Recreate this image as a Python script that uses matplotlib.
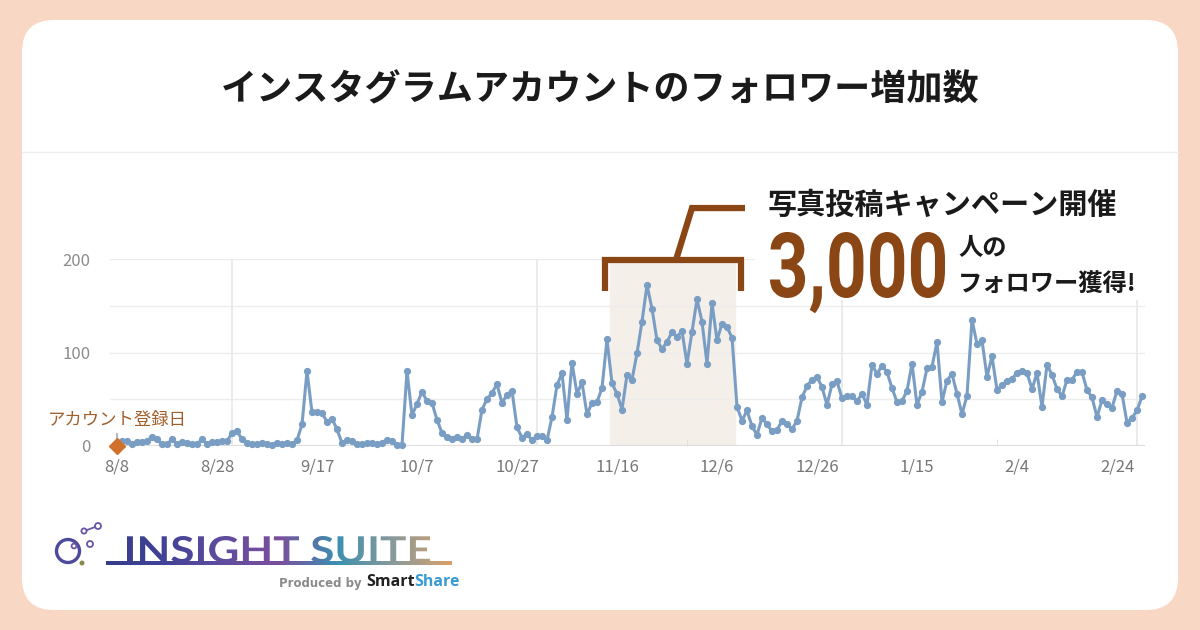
import matplotlib.pyplot as plt
import numpy as np
import matplotlib.transforms as mtransforms
from matplotlib.patches import FancyBboxPatch, Rectangle, Circle, PathPatch
from matplotlib.textpath import TextPath
from matplotlib.font_manager import FontProperties
from matplotlib.colors import LinearSegmentedColormap

plt.rcParams['font.family'] = ['Noto Sans CJK JP', 'DejaVu Sans']

# daily new followers, 8/8 -> 3/1
followers = [0, 5, 5, 2, 4, 4, 5, 10, 7, 2,
             2, 7, 2, 4, 3, 2, 2, 7, 2, 4,
             4, 5, 5, 14, 16, 7, 3, 2, 2, 3,
             2, 1, 3, 2, 3, 2, 6, 23, 80, 36,
             36, 35, 26, 29, 18, 3, 6, 5, 2, 2,
             3, 3, 2, 3, 6, 5, 1, 1, 80, 33,
             45, 58, 48, 46, 28, 14, 10, 8, 10, 7,
             12, 8, 7, 39, 50, 57, 66, 46, 55, 59,
             20, 9, 13, 6, 11, 11, 6, 31, 65, 78,
             28, 89, 56, 68, 34, 46, 47, 62, 114, 67,
             56, 39, 76, 71, 99, 133, 172, 147, 113, 104,
             111, 122, 117, 123, 88, 122, 157, 133, 88, 153,
             113, 131, 127, 116, 42, 27, 38, 21, 12, 30,
             23, 16, 17, 27, 23, 18, 27, 52, 64, 71,
             74, 63, 44, 66, 69, 51, 53, 53, 48, 56,
             44, 87, 77, 86, 79, 62, 47, 48, 59, 88,
             44, 58, 83, 85, 111, 47, 70, 77, 56, 34,
             54, 135, 109, 113, 74, 96, 60, 65, 70, 72,
             78, 80, 78, 61, 78, 42, 87, 76, 61, 53,
             71, 71, 79, 79, 60, 52, 31, 49, 45, 41,
             59, 56, 25, 30, 38, 53]

tick_days = [0, 20, 40, 60, 80, 100, 120, 140, 160, 180, 200]
tick_labels = ['8/8', '8/28', '9/17', '10/7', '10/27', '11/16', '12/6',
               '12/26', '1/15', '2/4', '2/24']
y_ticks = [0, 100, 200]
grid_days = [23, 84, 145, 204]
month_tick_days = [53, 114, 176]
campaign = (98.5, 123.5)

title = 'インスタグラムアカウントのフォロワー増加数'
brown = '#8a4614'
line_col = '#7a9ec3'

fig = plt.figure(figsize=(12, 6.3), dpi=100)
fig.patch.set_facecolor('#f8d8c4')

# background card
bg = fig.add_axes([0, 0, 1, 1])
bg.set_xlim(0, 1200)
bg.set_ylim(630, 0)
bg.axis('off')
bg.add_patch(FancyBboxPatch((22, 20), 1156, 590, boxstyle='round,pad=0,rounding_size=32',
                            fc='white', ec='none'))
bg.plot([22, 1178], [152, 152], color='#efefef', lw=1)
bg.text(600, 90, title, ha='center', va='center', fontsize=26, fontweight='bold', color='#1a1a1a')

# chart
ax = fig.add_axes([110/1200, (630-446)/630, 1035/1200, (446-259)/630])
ax.patch.set_alpha(0)
ax.set_xlim(-1.4, 205.6)
ax.set_ylim(0, 200)
days = np.arange(len(followers))

ax.axvspan(campaign[0], campaign[1], color='#f5efea', zorder=0)
for v in [50, 100, 150, 200]:
    ax.axhline(v, color='#ededed', lw=1, zorder=0.5)
for d in grid_days:
    ax.axvline(d, color='#e8e8e8', lw=1.2, zorder=0.5)
ax.axhline(0, color='#dddddd', lw=1.5, zorder=1)

ax.plot(days, followers, color=line_col, lw=2.2, marker='o', ms=4.2, clip_on=False, zorder=3)
ax.plot(days[0], followers[0], marker='D', color='#d0702a', ms=8, clip_on=False, zorder=4)

for s in ax.spines.values():
    s.set_visible(False)
ax.set_xticks(tick_days, tick_labels)
ax.set_yticks(y_ticks)
ax.set_xticks(month_tick_days, minor=True)
ax.tick_params(which='major', length=0, labelsize=12, labelcolor='#777777')
ax.tick_params(axis='x', which='major', pad=9)
ax.tick_params(axis='y', which='major', pad=14, labelcolor='#8c8c8c')
ax.tick_params(axis='x', which='minor', direction='in', length=5, color='#dddddd')

ax.annotate('アカウント登録日', xy=(days[0], followers[0]), xytext=(0, 12),
            textcoords='offset points', ha='center', va='bottom', fontsize=12.5,
            color='#a0602c', annotation_clip=False,
            arrowprops=dict(arrowstyle='-', color='#999999', lw=1, shrinkA=1, shrinkB=4))

# bracket over campaign period
bl, br = campaign[0] - 0.9, campaign[1] + 1.3
ax.plot([bl, bl, br, br], [166, 199, 199, 166], color=brown, lw=4.5,
        solid_joinstyle='miter', solid_capstyle='butt', clip_on=False, zorder=5)
ax.plot([111.8, 115, 125.6], [199, 254.5, 254.5], color=brown, lw=4.5,
        solid_joinstyle='miter', solid_capstyle='butt', clip_on=False, zorder=5)

# overlay for annotation text and logo
ov = fig.add_axes([0, 0, 1, 1], zorder=5)
ov.patch.set_alpha(0)
ov.axis('off')
ov.add_patch(Rectangle((755, 180), 395, 120, fc='white', ec='none'))

ov.text(768, 205, '写真投稿キャンペーン開催', ha='left', va='center', fontsize=21,
        fontweight='bold', color='#1a1a1a')
ov.text(958, 248, '人の', ha='left', va='center', fontsize=17.5, fontweight='bold', color='#1a1a1a')
ov.text(958, 284, 'フォロワー獲得!', ha='left', va='center', fontsize=17.5,
        fontweight='bold', color='#1a1a1a')

fp_num = FontProperties(family='Roboto', weight='bold')
tp = TextPath((0, 0), '3,000', size=100, prop=fp_num)
bb = tp.get_extents()
b0 = TextPath((0, 0), '0', size=100, prop=fp_num).get_extents()
sx = 175 / bb.width
sy = 66 / b0.height
tr = mtransforms.Affine2D().translate(-bb.x0, -b0.y0).scale(sx, -sy).translate(770, 298)
ov.add_patch(PathPatch(tp, transform=tr + ov.transData, fc=brown, ec='none'))

# logo
fp_logo = FontProperties(family='Lato', weight='bold')
lp = TextPath((0, 0), 'INSIGHT SUITE', size=100, prop=fp_logo)
lb = lp.get_extents()
tr2 = mtransforms.Affine2D().translate(-lb.x0, -lb.y0).scale(303 / lb.width, -27 / lb.height).translate(127, 563)
logo_patch = PathPatch(lp, transform=tr2 + ov.transData, fc='none', ec='none')
ov.add_patch(logo_patch)
cmap = LinearSegmentedColormap.from_list('logo', ['#343d8a', '#424296', '#5f4c9e', '#7b4f9c',
                                                   '#3c8fb0', '#8a9a9a', '#d9a06a'])
grad = np.linspace(0, 1, 256).reshape(1, -1)
im = ov.imshow(grad, extent=[106, 452, 568, 530], cmap=cmap, aspect='auto', zorder=3)
im.set_clip_path(logo_patch)
ov.imshow(grad, extent=[106, 452, 565.5, 562], cmap=cmap, aspect='auto', zorder=3)

ov.add_patch(Circle((68, 551), 11.5, fill=False, ec='#4d4a9c', lw=2.4))
for cx, cy, r in [(84, 531, 2.6), (98, 526, 3), (90, 544, 3), (74, 546, 2.4)]:
    ov.add_patch(Circle((cx, cy), r, fill=False, ec='#6a55a8', lw=1.3))
ov.plot([86.6, 95], [530.2, 527], color='#6a55a8', lw=1.3)
ov.add_patch(Circle((82, 563), 2.5, fc='#8a8a50', ec='none'))

ov.text(362, 584, 'Produced by', ha='right', va='center', fontsize=8.5, fontweight='bold',
        color='#8a8a8a', family='DejaVu Sans')
smart = ov.text(366, 582, 'Smart', ha='left', va='center', fontsize=11.5, fontweight='bold',
                color='#222222', family='Open Sans')
ov.annotate('Share', xy=(1, 0.5), xycoords=smart, ha='left', va='center', fontsize=11.5,
            fontweight='bold', color='#3a9bd5', family='Open Sans')

ov.set_xlim(0, 1200)
ov.set_ylim(630, 0)

plt.savefig('out.png', dpi=100, facecolor=fig.get_facecolor())
